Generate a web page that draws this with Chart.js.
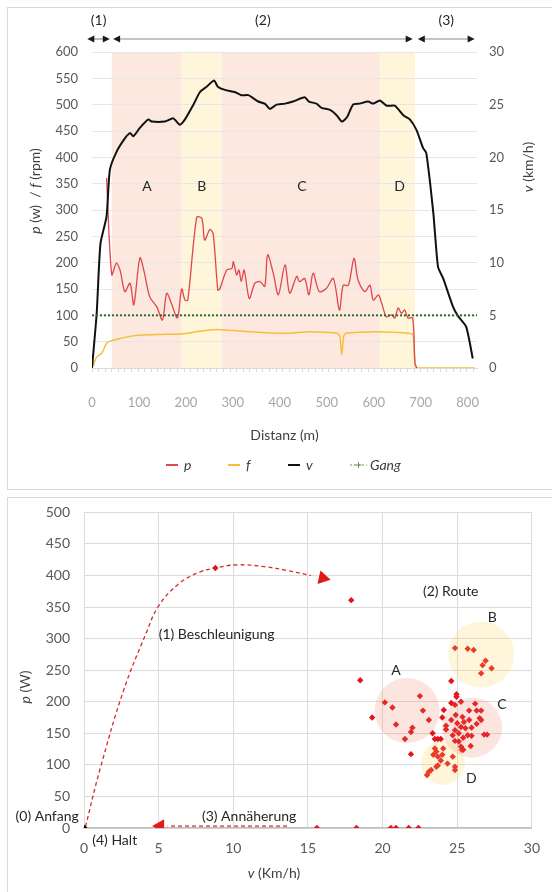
<!DOCTYPE html>
<html>
<head>
<meta charset="utf-8">
<script src="https://cdn.jsdelivr.net/npm/chart.js@4.4.1/dist/chart.umd.min.js"></script>
<style>
  html, body { margin: 0; padding: 0; background: #fff; }
  body { width: 552px; height: 892px; position: relative; overflow: hidden; }
  .frame { position: absolute; border: 1px solid #d9d9d9; box-sizing: border-box; }
  #f1 { left: 7px; top: 7px; width: 560px; height: 483px; }
  #f2 { left: 7px; top: 497px; width: 560px; height: 420px; }
  canvas { position: absolute; left: 0; }
  #c1 { top: 0; }
  #c2 { top: 490px; }
</style>
</head>
<body>
<div class="frame" id="f1"></div>
<div class="frame" id="f2"></div>
<canvas id="c1" width="552" height="490"></canvas>
<canvas id="c2" width="552" height="402"></canvas>
<script>
const FONT = 'Lato, "Open Sans", sans-serif';

// ---- oberes Diagramm: Distanz (m) ----
const distP = [31, 42, 52, 60, 70, 81, 89, 102, 111, 123, 138, 150, 159, 169, 182, 191, 198, 204, 223, 234, 240, 251, 258, 268, 272, 287, 298, 301, 308, 313, 318, 324, 335, 347, 358, 368, 374, 386, 397, 411, 421, 436, 442, 453, 462, 471, 484, 499, 514, 527, 535, 546, 558, 567, 581, 592, 599, 610, 617, 627, 638, 645, 652, 659, 666, 673, 683, 688, 692];
const powerP = [361, 177, 199, 185, 145, 161, 120, 209, 183, 135, 116, 91, 142, 123, 95, 150, 129, 129, 286, 284, 243, 263, 255, 148, 150, 186, 189, 202, 177, 186, 164, 186, 132, 161, 164, 155, 215, 180, 139, 196, 142, 174, 164, 170, 139, 180, 145, 151, 170, 110, 157, 157, 208, 166, 145, 157, 129, 139, 123, 97, 101, 95, 114, 104, 110, 95, 95, 9, 0];

const distF = [0, 10, 21, 31, 42, 60, 88, 123, 159, 194, 230, 265, 301, 372, 420, 463, 523, 528, 532, 536, 540, 603, 683, 690, 815];
const cadF = [0, 21, 28, 47, 52, 56, 61, 63, 64, 65, 70, 73, 71, 67, 66, 69, 66, 60, 25, 60, 66, 69, 64, 0, 0];

const distV = [0, 10, 18, 31, 38, 52, 70, 81, 88, 102, 120, 127, 155, 173, 187, 198, 216, 230, 244, 260, 268, 283, 304, 318, 333, 354, 368, 379, 393, 411, 428, 453, 462, 478, 489, 507, 521, 532, 543, 556, 570, 588, 599, 613, 628, 645, 663, 677, 691, 705, 712, 727, 737, 748, 769, 780, 797, 811];
const speedV = [0, 5.2, 11.8, 14.4, 18.8, 20.5, 21.8, 22.3, 22.0, 22.8, 23.6, 23.4, 23.4, 23.7, 23.1, 23.6, 25.0, 26.2, 26.7, 27.3, 26.7, 26.4, 26.2, 25.9, 25.9, 25.3, 25.1, 24.6, 25.0, 25.1, 25.3, 25.7, 25.3, 25.1, 24.7, 24.5, 24.0, 23.4, 23.8, 25.0, 25.1, 25.3, 25.1, 25.4, 24.9, 24.9, 24.0, 23.6, 22.6, 20.9, 20.4, 14.7, 9.6, 8.5, 5.8, 4.9, 3.9, 0.9];

const distGang = [0, 820];
const gang = [100, 100];

const zoneFrom = [42, 191, 276, 613];
const zoneTo = [191, 276, 613, 688];
const zoneNames = ['A', 'B', 'C', 'D'];
const zoneLabelX = [117, 234, 447, 655];
const zoneLabelY = [345, 345, 345, 345];

const phaseNames = ['(1)', '(2)', '(3)'];
const phaseFrom = [-10, 45, 694];
const phaseTo = [38, 683, 815];

// ---- unteres Diagramm: v (km/h) gegen p (W) ----
const speedPts = [8.8, 17.9, 18.5, 19.3, 24.6,
  24.85, 25.7, 26.1, 26.9, 26.7, 27.3, 26.6,
  15.6, 18.25, 20.55, 20.9, 21.75, 22.4,
  24.95, 24.95, 22.5,
  20.15, 20.66, 20.9, 22.0, 21.9, 21.5, 21.9, 22.7, 23.1, 23.35,
  23.5, 23.7, 23.9,
  24.1, 24.6, 25.25, 24.85, 24.0, 24.25, 24.25, 24.6, 24.9, 25.35, 25.0, 25.25, 25.45, 25.55, 24.85, 25.1, 24.7, 24.85, 25.1, 25.4, 25.7, 25.8, 25.8, 26.2, 26.3, 26.6, 26.5, 26.6, 25.96, 26.3, 25.96, 26.8, 27.0, 25.9, 25.4, 25.25,
  23.5, 23.6, 23.4, 23.7, 24.06, 24.0, 23.9, 23.6, 23.25, 22.98, 23.1, 23.7, 24.35, 24.7, 24.85, 24.85, 25.3];
const powerPts = [412, 361, 234, 175, 233,
  285, 284, 282, 265, 258, 253, 245,
  0, 0, 0, 0, 0, 0,
  212, 208, 209,
  199, 191, 164, 159, 152, 141, 117, 186, 171, 150,
  141, 141, 141,
  187, 198, 200, 195, 175, 162, 156, 171, 179, 176, 166, 160, 168, 158, 155, 150, 147, 138, 137, 143, 147, 171, 186, 197, 186, 186, 174, 171, 159, 165, 146, 148, 148, 130, 124, 129,
  126, 121, 116, 113, 126, 116, 107, 97, 92, 84, 89, 99, 102, 113, 97, 92, 124];

const startV = [0];
const startP = [0];

const circleV = [21.64, 26.6, 26.0, 24.04];
const circleP = [186, 275, 159, 103];

const accelV = [0.1, 1.06, 2.65, 4.15, 5.0, 6.35, 7.7, 8.8, 10.3, 12.1, 13.6, 15.2];
const accelP = [2, 92, 218, 308, 352, 387, 405, 412, 417, 414, 408, 400];
const accelHeadV = [16.0];
const accelHeadP = [396];
const approachV = [13.6, 5.6];
const approachP = [3, 3];
const approachHeadV = [5.1];
const approachHeadP = [3];

const noteText = ['(1) Beschleunigung', '(2) Route', 'A', 'B', 'C', 'D', '(3) Annäherung', '(4) Halt', '(0) Anfang'];
const noteV = [5.0, 22.7, 20.9, 27.35, 28.0, 25.95, 7.9, 0.55, -0.35];
const noteP = [307, 375, 249, 334, 195, 79, 18, -20, 18];
const noteAlign = ['left', 'left', 'center', 'center', 'center', 'center', 'left', 'left', 'right'];

const pts = (xs, ys) => xs.map((x, i) => ({ x: x, y: ys[i] }));

function richText(ctx, parts, x, y, size, rot) {
  ctx.save();
  ctx.translate(x, y);
  if (rot) ctx.rotate(rot);
  ctx.textBaseline = 'middle';
  ctx.textAlign = 'left';
  ctx.fillStyle = '#404040';
  const setFont = p => { ctx.font = (p[1] ? 'italic ' : '') + size + 'px ' + FONT; };
  let total = 0;
  parts.forEach(p => { setFont(p); total += ctx.measureText(p[0]).width; });
  let cx = -total / 2;
  parts.forEach(p => {
    setFont(p);
    ctx.fillText(p[0], cx, 0);
    cx += ctx.measureText(p[0]).width;
  });
  ctx.restore();
}

function arrowHead(ctx, x, y, dir) {
  ctx.beginPath();
  ctx.moveTo(x, y);
  ctx.lineTo(x - dir * 7, y - 3.5);
  ctx.lineTo(x - dir * 7, y + 3.5);
  ctx.closePath();
  ctx.fill();
}

const zoneFill = ['#fce8df', '#fff5da', '#fce8df', '#fff5da'];

const topDeco = {
  id: 'topDeco',
  beforeDraw(chart) {
    const { ctx, chartArea: a, scales: { x } } = chart;
    ctx.save();
    zoneFrom.forEach((z, i) => {
      const l = x.getPixelForValue(z);
      const r = x.getPixelForValue(zoneTo[i]);
      ctx.fillStyle = zoneFill[i];
      ctx.fillRect(l, a.top, r - l, a.bottom - a.top);
    });
    ctx.restore();
  },
  afterDraw(chart) {
    const { ctx, chartArea: a, scales: { x, y } } = chart;
    ctx.save();
    ctx.font = '14px ' + FONT;
    ctx.textAlign = 'center';
    ctx.textBaseline = 'middle';
    ctx.fillStyle = '#262626';
    zoneNames.forEach((n, i) => {
      ctx.fillText(n, x.getPixelForValue(zoneLabelX[i]), y.getPixelForValue(zoneLabelY[i]));
    });

    const ay = a.top - 13;
    phaseNames.forEach((n, i) => {
      const l = x.getPixelForValue(phaseFrom[i]);
      const r = x.getPixelForValue(phaseTo[i]);
      ctx.strokeStyle = '#8c8c8c';
      ctx.lineWidth = 1.2;
      ctx.beginPath();
      ctx.moveTo(l + 4, ay);
      ctx.lineTo(r - 4, ay);
      ctx.stroke();
      ctx.fillStyle = '#1a1a1a';
      arrowHead(ctx, l, ay, -1);
      arrowHead(ctx, r, ay, 1);
      ctx.fillStyle = '#262626';
      ctx.font = '14px ' + FONT;
      ctx.fillText(n, (l + r) / 2, a.top - 32);
    });

    // Achsentitel
    richText(ctx, [['p', true], [' (w)  / ', false], ['f', true], [' (rpm)', false]], 35, 191, 14, -Math.PI / 2);
    richText(ctx, [['v', true], [' (km/h)', false]], 528, 167, 14, -Math.PI / 2);
    richText(ctx, [['Distanz (m)', false]], (a.left + a.right) / 2, 435, 14, 0);

    // Legende
    const ly = 465;
    const legendX = [166, 228, 288, 350];
    const legendCol = ['#e0474c', '#f4bf3a', '#111111', '#6f8f5f'];
    const legendName = ['p', 'f', 'v', 'Gang'];
    legendName.forEach((n, i) => {
      const x0 = legendX[i];
      ctx.strokeStyle = legendCol[i];
      ctx.lineWidth = 2;
      if (i === 3) {
        ctx.lineWidth = 1;
        ctx.setLineDash([2, 2]);
        ctx.beginPath(); ctx.moveTo(x0, ly); ctx.lineTo(x0 + 17, ly); ctx.stroke();
        ctx.setLineDash([]);
        ctx.beginPath(); ctx.moveTo(x0 + 8.5, ly - 3); ctx.lineTo(x0 + 8.5, ly + 3);
        ctx.moveTo(x0 + 5.5, ly); ctx.lineTo(x0 + 11.5, ly); ctx.stroke();
      } else {
        ctx.beginPath(); ctx.moveTo(x0, ly); ctx.lineTo(x0 + 12, ly); ctx.stroke();
      }
      ctx.font = 'italic 14px ' + FONT;
      ctx.textAlign = 'left';
      ctx.fillStyle = '#404040';
      ctx.fillText(n, x0 + (i === 3 ? 20 : 18), ly);
    });
    ctx.restore();
  }
};

new Chart(document.getElementById('c1'), {
  type: 'line',
  data: {
    datasets: [
      { label: 'Gang', data: pts(distGang, gang), borderColor: '#2f6b22', borderWidth: 2, borderDash: [2, 2],
        pointRadius: 0, yAxisID: 'y', order: 0 },
      { label: 'v', data: pts(distV, speedV), borderColor: '#111111', borderWidth: 2,
        pointRadius: 0, yAxisID: 'y2', order: 1, tension: 0.2 },
      { label: 'p', data: pts(distP, powerP), borderColor: '#e0474c', borderWidth: 1.3,
        pointRadius: 0, yAxisID: 'y', order: 2, tension: 0.3 },
      { label: 'f', data: pts(distF, cadF), borderColor: '#f4bf3a', borderWidth: 1.5,
        pointRadius: 0, yAxisID: 'y', order: 3, tension: 0.1 }
    ]
  },
  options: {
    responsive: false,
    animation: false,
    layout: { autoPadding: false, padding: { top: 52, bottom: 42, left: 0, right: 0 } },
    plugins: { legend: { display: false }, tooltip: { enabled: false } },
    scales: {
      xt: {
        type: 'linear', position: 'bottom', min: 0, max: 820, weight: 0,
        ticks: { display: false, stepSize: 14, includeBounds: false, maxTicksLimit: 100 },
        grid: { drawOnChartArea: false, tickLength: 4, color: '#d9d9d9' },
        border: { color: '#d9d9d9' },
        afterFit: s => { s.height = 4; }
      },
      x: {
        type: 'linear', position: 'bottom', min: 0, max: 820, weight: 1,
        ticks: { stepSize: 100, includeBounds: false, padding: 15, color: '#a6a6a6', font: { family: FONT, size: 13 } },
        grid: { display: false },
        border: { display: false },
        afterFit: s => { s.height = 76; }
      },
      y: {
        position: 'left', min: 0, max: 600,
        ticks: { stepSize: 50, padding: 14, color: '#595959', font: { family: FONT, size: 13 } },
        grid: { color: '#e6e6e6', drawTicks: false },
        border: { display: false },
        afterFit: s => { s.width = 92; }
      },
      y2: {
        position: 'right', min: 0, max: 30,
        ticks: { stepSize: 5, padding: 12, color: '#595959', font: { family: FONT, size: 13 } },
        grid: { display: false, drawTicks: false },
        border: { display: false },
        afterFit: s => { s.width = 75; }
      }
    }
  },
  plugins: [topDeco]
});

const bottomDeco = {
  id: 'bottomDeco',
  afterDraw(chart) {
    const { ctx, scales: { x, y } } = chart;
    ctx.save();
    ctx.font = '14px ' + FONT;
    ctx.textBaseline = 'middle';
    ctx.fillStyle = '#262626';
    noteText.forEach((t, i) => {
      ctx.textAlign = noteAlign[i];
      ctx.fillText(t, x.getPixelForValue(noteV[i]), y.getPixelForValue(noteP[i]));
    });
    richText(ctx, [['p', true], [' (W)', false]], 25, 197, 14, -Math.PI / 2);
    richText(ctx, [['v', true], [' (Km/h)', false]], 274, 383, 14, 0);
    ctx.restore();
  }
};

new Chart(document.getElementById('c2'), {
  type: 'scatter',
  data: {
    datasets: [
      { label: 'Zonen', data: pts(circleV, circleP), pointStyle: 'circle', pointRadius: [32.5, 33, 30, 22],
        backgroundColor: ['rgba(237,125,90,0.2)', 'rgba(250,210,90,0.22)', 'rgba(237,125,90,0.2)', 'rgba(250,210,90,0.22)'],
        borderWidth: 0, order: 0 },
      { label: 'Anfang', data: pts(startV, startP), pointStyle: 'rectRot', pointRadius: 3.5,
        backgroundColor: '#000000', borderWidth: 0, order: 1 },
      { label: 'Beschleunigung', data: pts(accelV, accelP), showLine: true, tension: 0.4, borderColor: '#d42a2a',
        borderWidth: 1.3, borderDash: [4, 3], pointRadius: 0, order: 3 },
      { label: 'Pfeil 1', data: pts(accelHeadV, accelHeadP), pointStyle: 'triangle', pointRadius: 8, rotation: 102,
        backgroundColor: '#e01b1b', borderWidth: 0, order: 3 },
      { label: 'Annäherung', data: pts(approachV, approachP), showLine: true, borderColor: '#d42a2a',
        borderWidth: 1.3, borderDash: [4, 3], pointRadius: 0, order: 3 },
      { label: 'Pfeil 3', data: pts(approachHeadV, approachHeadP), pointStyle: 'triangle', pointRadius: 8, rotation: -90,
        backgroundColor: '#e01b1b', borderWidth: 0, order: 3 },
      { label: 'p', data: pts(speedPts, powerPts), pointStyle: 'rectRot', pointRadius: 3.2,
        backgroundColor: '#e3141b', borderWidth: 0, order: 2 }
    ]
  },
  options: {
    responsive: false,
    animation: false,
    layout: { autoPadding: false, padding: { top: 22, right: 15, left: 0, bottom: 0 } },
    plugins: { legend: { display: false }, tooltip: { enabled: false } },
    scales: {
      x: {
        min: 0, max: 30,
        ticks: { stepSize: 5, padding: 12, color: '#595959', font: { family: FONT, size: 14 } },
        grid: { color: '#dcdcdc', drawTicks: false },
        border: { color: '#bfbfbf', width: 1.5 },
        afterFit: s => { s.height = 64; }
      },
      y: {
        min: 0, max: 500,
        ticks: { stepSize: 50, padding: 14, color: '#595959', font: { family: FONT, size: 14 } },
        grid: { color: '#dcdcdc', drawTicks: false },
        border: { color: '#dcdcdc' },
        afterFit: s => { s.width = 84; }
      }
    }
  },
  plugins: [bottomDeco]
});
</script>
</body>
</html>
